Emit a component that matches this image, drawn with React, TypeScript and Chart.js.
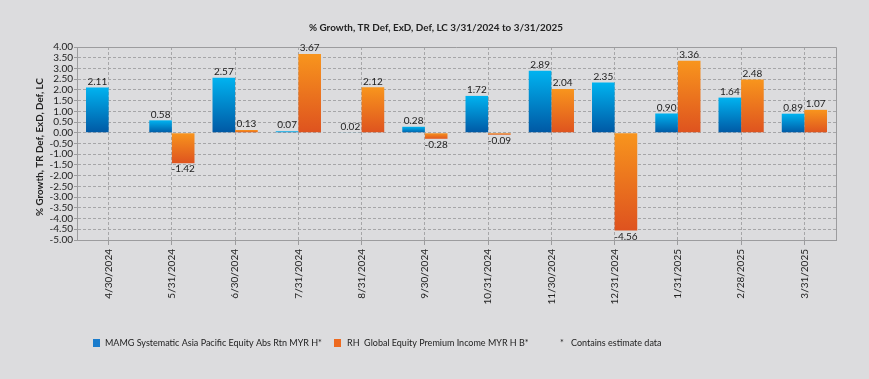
import React, { useEffect, useRef } from 'react';
import { Chart, registerables } from 'chart.js';

Chart.register(...registerables);

const categories = ['4/30/2024', '5/31/2024', '6/30/2024', '7/31/2024', '8/31/2024', '9/30/2024', '10/31/2024', '11/30/2024', '12/31/2024', '1/31/2025', '2/28/2025', '3/31/2025'];
const mamgValues: (number | null)[] = [2.11, 0.58, 2.57, 0.07, 0.02, 0.28, 1.72, 2.89, 2.35, 0.9, 1.64, 0.89];
const rhValues: (number | null)[] = [null, -1.42, 0.13, 3.67, 2.12, -0.28, -0.09, 2.04, -4.56, 3.36, 2.48, 1.07];
const seriesNames = ['MAMG Systematic Asia Pacific Equity Abs Rtn MYR H*', 'RH  Global Equity Premium Income MYR H B*'];
const noteText = 'Contains estimate data';
const titleText = '% Growth, TR Def, ExD, Def, LC 3/31/2024 to 3/31/2025';
const yAxisTitle = '% Growth, TR Def, ExD, Def, LC';
const yMin = -5;
const yMax = 4;
const yStep = 0.5;

const FONT = 'Lato';
const BG = '#dcdcde';
const GRID = '#a6a6a8';
const BORDER = '#9c9c9e';
const TEXT = '#222222';

const blueStops = ['#00b3f0', '#0057a3'];
const orangeStops = ['#f8951d', '#de521f'];

function gradientFor(stops: string[]) {
  return (ctx: any) => {
    const chart = ctx.chart;
    const { chartArea, scales } = chart;
    if (!chartArea || ctx.type !== 'data' || ctx.raw == null) return stops[0];
    const y0 = scales.y.getPixelForValue(0);
    const y1 = scales.y.getPixelForValue(ctx.raw);
    const top = Math.min(y0, y1);
    const bottom = Math.max(y0, y1) + 0.5;
    const g = chart.ctx.createLinearGradient(0, top, 0, bottom);
    g.addColorStop(0, stops[0]);
    g.addColorStop(1, stops[1]);
    return g;
  };
}

const decorPlugin = {
  id: 'decor',
  beforeDraw(chart: any) {
    const { ctx, width, height } = chart;
    ctx.save();
    ctx.fillStyle = BG;
    ctx.fillRect(0, 0, width, height);
    ctx.restore();
  },
  afterDatasetsDraw(chart: any) {
    const { ctx, chartArea } = chart;
    ctx.save();
    ctx.strokeStyle = BORDER;
    ctx.lineWidth = 1;
    ctx.beginPath();
    ctx.moveTo(chartArea.left, chartArea.top + 0.5);
    ctx.lineTo(chartArea.right + 0.5, chartArea.top + 0.5);
    ctx.lineTo(chartArea.right + 0.5, chartArea.bottom);
    ctx.stroke();

    ctx.font = `10px ${FONT}`;
    ctx.fillStyle = TEXT;
    ctx.textAlign = 'center';
    chart.data.datasets.forEach((ds: any, di: number) => {
      const meta = chart.getDatasetMeta(di);
      meta.data.forEach((bar: any, i: number) => {
        const v = ds.data[i];
        if (v == null) return;
        if (v >= 0) {
          ctx.textBaseline = 'bottom';
          ctx.fillText(v.toFixed(2), bar.x, bar.y - 1);
        } else {
          ctx.textBaseline = 'top';
          ctx.fillText(v.toFixed(2), bar.x, bar.y + 1);
        }
      });
    });

    ctx.font = `bold 9.9px ${FONT}`;
    ctx.fillStyle = TEXT;
    ctx.textAlign = 'center';
    ctx.textBaseline = 'middle';
    ctx.fillText(titleText, 436, 28);

    ctx.save();
    ctx.font = `bold 9.8px ${FONT}`;
    ctx.translate(40, 147);
    ctx.rotate(-Math.PI / 2);
    ctx.fillText(yAxisTitle, 0, 0);
    ctx.restore();

    const ly = 343;
    ctx.font = `9px ${FONT}`;
    ctx.textAlign = 'left';
    ctx.textBaseline = 'middle';
    ctx.fillStyle = '#1a7ccc';
    ctx.fillRect(93, ly - 4, 7, 8);
    ctx.fillStyle = TEXT;
    ctx.fillText(seriesNames[0], 105, ly);
    ctx.fillStyle = '#ee6a1f';
    ctx.fillRect(334, ly - 4, 7, 8);
    ctx.fillStyle = TEXT;
    ctx.fillText(seriesNames[1], 347, ly);
    ctx.fillText('*', 560, ly);
    ctx.fillText(noteText, 571, ly);
    ctx.restore();
  },
};

export default function App() {
  const ref = useRef<HTMLCanvasElement>(null);
  useEffect(() => {
    if (!ref.current) return;
    const chart = new Chart(ref.current, {
      type: 'bar',
      data: {
        labels: categories,
        datasets: [
          {
            label: seriesNames[0],
            data: mamgValues,
            backgroundColor: gradientFor(blueStops),
            borderWidth: 0,
            barPercentage: 1,
            categoryPercentage: 0.715,
          },
          {
            label: seriesNames[1],
            data: rhValues,
            backgroundColor: gradientFor(orangeStops),
            borderWidth: 0,
            barPercentage: 1,
            categoryPercentage: 0.715,
          },
        ],
      },
      options: {
        responsive: false,
        animation: false,
        layout: { padding: { left: 33, top: 47, right: 33, bottom: 69 } },
        plugins: {
          legend: { display: false },
          title: { display: false },
          tooltip: { enabled: false },
        },
        scales: {
          x: {
            offset: true,
            grid: {
              offset: false,
              color: GRID,
              lineWidth: 1,
              tickLength: 5,
              tickColor: BORDER,
              tickBorderDash: [],
            },
            border: { display: true, color: BORDER, width: 1, dash: [3, 2] },
            ticks: {
              autoSkip: false,
              minRotation: 90,
              maxRotation: 90,
              padding: 4,
              color: TEXT,
              font: { family: FONT, size: 10 },
            },
            afterFit: (s: any) => {
              s.height = 70;
            },
          },
          y: {
            min: yMin,
            max: yMax,
            grid: {
              color: GRID,
              lineWidth: 1,
              tickLength: 3,
              tickColor: BORDER,
              tickBorderDash: [],
            },
            border: { display: true, color: BORDER, width: 1, dash: [3, 2] },
            ticks: {
              stepSize: yStep,
              autoSkip: false,
              padding: 1,
              color: TEXT,
              font: { family: FONT, size: 10 },
              callback: (v: any) => Number(v).toFixed(2),
            },
            afterFit: (s: any) => {
              s.width = 44;
            },
          },
        },
      },
      plugins: [decorPlugin],
    });
    return () => chart.destroy();
  }, []);
  return (
    <div style={{ position: 'fixed', left: 0, top: 0, width: 869, height: 379, background: BG }}>
      <canvas ref={ref} width={869} height={379} style={{ display: 'block', width: 869, height: 379 }} />
    </div>
  );
}
